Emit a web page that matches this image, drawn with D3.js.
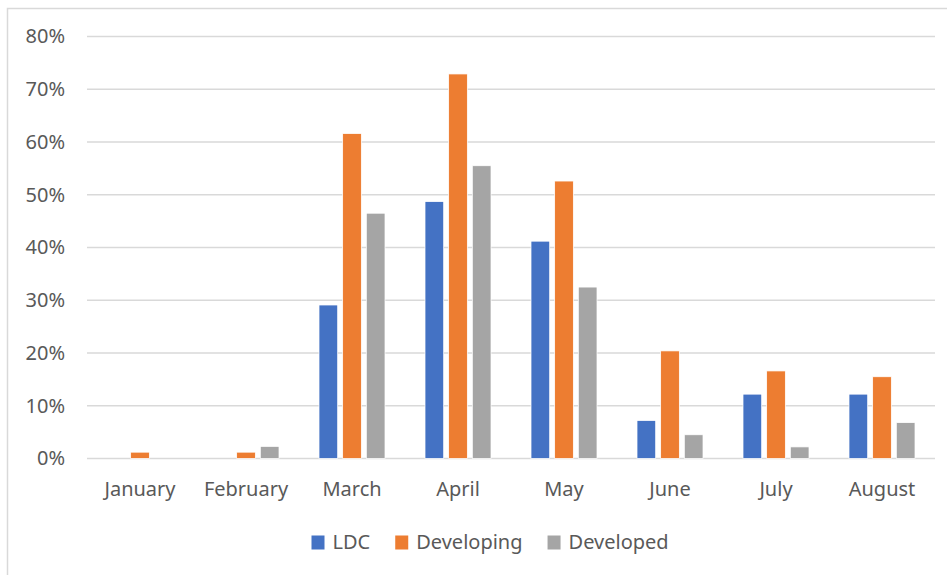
<!DOCTYPE html>
<html><head><meta charset="utf-8">
<script src="https://cdn.jsdelivr.net/npm/d3@7"></script>
<style>body{margin:0;background:#fff}svg{display:block}</style>
</head><body>
<svg id="c" width="947" height="575"></svg>
<script>
const categories = ["January","February","March","April","May","June","July","August"];
const seriesNames = ["LDC","Developing","Developed"];
const ldc        = [0, 0, 29.1, 48.7, 41.2, 7.2, 12.2, 12.2];
const developing = [1.2, 1.2, 61.6, 72.9, 52.6, 20.4, 16.6, 15.5];
const developed  = [0, 2.3, 46.5, 55.5, 32.5, 4.5, 2.2, 6.8];
const yTicks = [0,10,20,30,40,50,60,70,80];
const colors = ["#4472C4","#ED7D31","#A5A5A5"];

const seriesValues = [ldc, developing, developed];
const svg = d3.select("#c");
const font = "'Noto Sans', sans-serif";
const txt = "#595959";
const fs = 20;

// outer chart border
svg.append("rect").attr("x",7.5).attr("y",8.5).attr("width",960).attr("height",600)
  .attr("fill","none").attr("stroke","#D9D9D9").attr("stroke-width",1.5);

const L = 87, R = 935, T = 36.5, B = 458.5;
const x = d3.scaleBand().domain(categories).range([L,R]);
const y = d3.scaleLinear().domain([0,80]).range([B,T]);
const inner = d3.scaleBand().domain(seriesNames).range([-33,33]).paddingInner(0.21);

// gridlines
svg.append("g").selectAll("line").data(yTicks).join("line")
  .attr("x1",L).attr("x2",R).attr("y1",d=>y(d)).attr("y2",d=>y(d))
  .attr("stroke","#D9D9D9").attr("stroke-width",1.5);

// y axis labels
const yAxis = d3.axisLeft(y).tickValues(yTicks).tickFormat(d=>d+"%").tickSize(0).tickPadding(22);
const ya = svg.append("g").attr("transform",`translate(${L},0)`).call(yAxis);
ya.select(".domain").remove();
ya.selectAll("text").attr("font-family",font).attr("font-size",fs).attr("fill",txt);

// bars
const g = svg.append("g");
seriesNames.forEach((s,i)=>{
  g.append("g").selectAll("rect").data(categories.map((c,j)=>({c,v:seriesValues[i][j]})).filter(d=>d.v>0))
    .join("rect")
    .attr("x",d=>x(d.c)+x.bandwidth()/2+inner(s))
    .attr("width",inner.bandwidth())
    .attr("y",d=>y(d.v))
    .attr("height",d=>B-y(d.v))
    .attr("fill",colors[i])
    .attr("stroke","#fff").attr("stroke-width",0.75);
});

// x axis labels
const xAxis = d3.axisBottom(x).tickSize(0).tickPadding(0);
const xa = svg.append("g").attr("transform",`translate(0,${B})`).call(xAxis);
xa.select(".domain").remove();
xa.selectAll("text").attr("dy",null).attr("y",37).attr("font-family",font).attr("font-size",fs).attr("fill",txt);

// legend
const leg = svg.append("g");
let lx = 311.5;
seriesNames.forEach((s,i)=>{
  leg.append("rect").attr("x",lx).attr("y",535.5).attr("width",13).attr("height",14).attr("fill",colors[i]);
  const t = leg.append("text").attr("x",lx+21).attr("y",549).text(s)
    .attr("font-family",font).attr("font-size",fs).attr("fill",txt);
  lx = lx + 21 + t.node().getComputedTextLength() + 25;
});
</script>
</body></html>
